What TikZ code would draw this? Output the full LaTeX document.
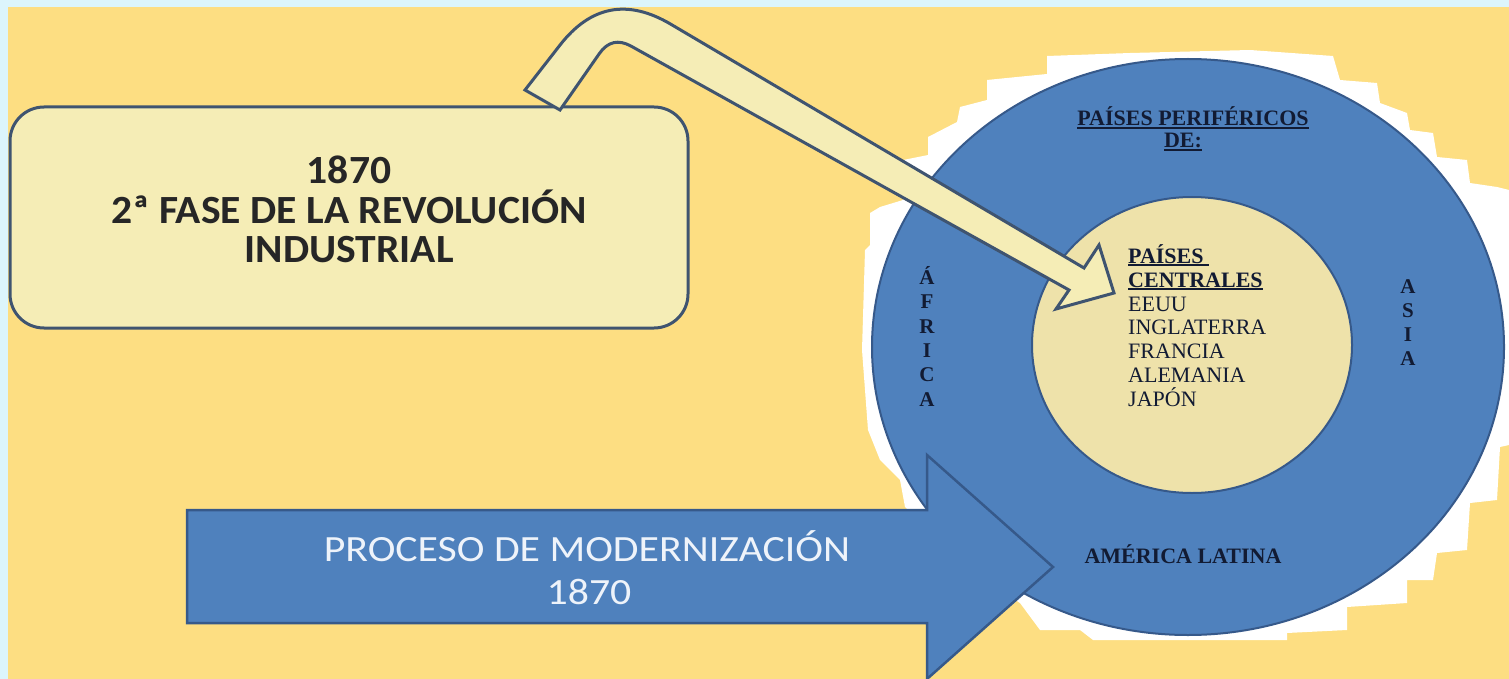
\documentclass[tikz,border=0pt]{standalone}
\usepackage{fontspec}
\newfontfamily\calfont[FakeStretch=1.04]{Carlito}
\newfontfamily\calwide[FakeStretch=1.13]{Carlito}
\newfontfamily\tnrfont{Liberation Serif}
\definecolor{bgyellow}{HTML}{FDDE82}
\definecolor{cyanband}{HTML}{DCF5FC}
\definecolor{boxfill}{HTML}{F5EDB6}
\definecolor{boxline}{HTML}{3F5470}
\definecolor{ringblue}{HTML}{4F81BD}
\definecolor{ringline}{HTML}{36598A}
\definecolor{innerfill}{HTML}{EEE2AA}
\definecolor{textnavy}{HTML}{121B33}
\definecolor{arrowtext}{HTML}{EEF3FA}
\newcommand\myul[1]{\setbox0=\hbox{#1}\leavevmode\rlap{\rule[-3pt]{\wd0}{1.6pt}}\box0}
\begin{document}
\begin{tikzpicture}[x=1pt,y=-1pt,
  paleshape/.style={fill=boxfill,draw=boxline,line width=3pt,line join=round},
  blueshape/.style={fill=ringblue,draw=ringline,line width=2.5pt,line join=miter},
  ringtxt/.style={font=\tnrfont\bfseries\fontsize{22}{22}\selectfont,text=textnavy,inner sep=0pt},
  lettertxt/.style={font=\tnrfont\bfseries\fontsize{21}{21}\selectfont,text=textnavy,inner sep=0pt,anchor=base},
  innertxt/.style={font=\tnrfont\fontsize{22}{22}\selectfont,text=textnavy,inner sep=0pt,anchor=base west},
  boxtxt/.style={font=\calfont\bfseries\fontsize{40}{40}\selectfont,text=black!85,inner sep=0pt,anchor=base},
  arrtxt/.style={font=\calwide\fontsize{37}{37}\selectfont,text=arrowtext,inner sep=0pt,anchor=base}]
\useasboundingbox (0,0) rectangle (1509,679);
\fill[bgyellow] (0,0) rectangle (1509,679);
\fill[cyanband] (0,0) rectangle (1509,7);
\fill[cyanband] (0,0) rectangle (8,679);
% white halo
\fill[white] (870,245) -- (870,213) -- (880,207) -- (903,200) -- (903,160) -- (928,155) -- (928,137) -- (957,122) -- (960,107) -- (987,100) -- (987,80) -- (1047,74) -- (1047,56) -- (1130,53) -- (1250,50) -- (1333,56) -- (1340,80) -- (1377,83) -- (1380,103) -- (1407,113) -- (1410,130) -- (1433,133) -- (1437,157) -- (1467,160) -- (1470,183) -- (1497,187) -- (1509,190) -- (1509,445) -- (1500,447) -- (1497,500) -- (1470,503) -- (1467,550) -- (1437,553) -- (1433,580) -- (1407,580) -- (1407,603) -- (1347,607) -- (1347,630) -- (1287,633) -- (1287,640) -- (1093,640) -- (1080,630) -- (1040,630) -- (1020,603) -- (1000,590) -- (940,540) -- (905,507) -- (900,480) -- (880,460) -- (868,430) -- (862,350) -- (865,250) -- cycle;
% rings
\draw[fill=ringblue,draw=ringline,line width=2pt] (1188,347) ellipse [x radius=316pt, y radius=288pt];
\draw[fill=innerfill,draw=ringline,line width=2pt] (1192,345) ellipse [x radius=160pt, y radius=148pt];
% ring texts
\node[ringtxt,anchor=base] (peri) at (1193,126) {\myul{PAÍSES PERIFÉRICOS}};
\node[ringtxt,anchor=base] (de) at (1183,148) {\myul{DE:}};
\node[ringtxt,anchor=base] (amer) at (1183,563) {AMÉRICA LATINA};
\node[lettertxt] (af1) at (927,284) {Á};
\node[lettertxt] (af2) at (927,308) {F};
\node[lettertxt] (af3) at (927,333) {R};
\node[lettertxt] (af4) at (927,357) {I};
\node[lettertxt] (af5) at (927,381) {C};
\node[lettertxt] (af6) at (927,406) {A};
\node[lettertxt] (as1) at (1408,293) {A};
\node[lettertxt] (as2) at (1408,317) {S};
\node[lettertxt] (as3) at (1408,341) {I};
\node[lettertxt] (as4) at (1408,365) {A};
% inner texts
\node[innertxt,font=\tnrfont\bfseries\fontsize{22}{22}\selectfont] (c1) at (1128,263) {\myul{PAÍSES }};
\node[innertxt,font=\tnrfont\bfseries\fontsize{22}{22}\selectfont] (c2) at (1128,287) {\myul{CENTRALES}};
\node[innertxt] (c3) at (1128,311) {EEUU};
\node[innertxt] (c4) at (1128,334) {INGLATERRA};
\node[innertxt] (c5) at (1128,358) {FRANCIA};
\node[innertxt] (c6) at (1128,382) {ALEMANIA};
\node[innertxt] (c7) at (1128,406) {JAPÓN};
% rounded box
\draw[paleshape,rounded corners=34pt] (10,107) rectangle (688,328);
\node[boxtxt] (b1) at (349,184) {1870};
\node[boxtxt] (b2) at (349,223) {2ª FASE DE LA REVOLUCIÓN};
\node[boxtxt] (b3) at (349,262) {INDUSTRIAL};
% bent arrow
\coordinate (tipA) at (1114,293);
\draw[paleshape,line join=miter] (525,90) -- (559.9,45.2) .. controls (590.6,5.7) and (627.5,-1.3) .. (670.6,24.1)
  -- (1084,268) -- (1099,245) -- (tipA) -- (1056,309) -- (1069,290)
  -- (631.2,46.2) .. controls (618.4,39.1) and (607.8,41.5) .. (599.4,53.5) -- (560,110) -- cycle;
% big blue arrow
\coordinate (tipB) at (1053,567);
\draw[blueshape] (187,510) -- (927,510) -- (927,455) -- (tipB) -- (927,679) -- (927,623) -- (187,623) -- cycle;
\node[arrtxt] (p1) at (587,561) {PROCESO DE MODERNIZACIÓN};
\node[arrtxt] (p2) at (589,604) {1870};
\end{tikzpicture}
\end{document}
